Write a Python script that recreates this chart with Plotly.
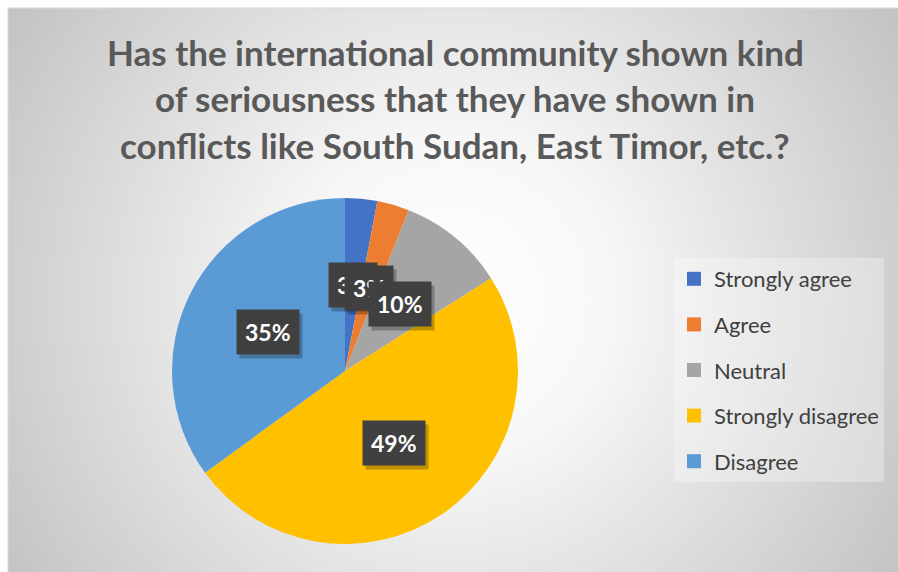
import base64
import math
import plotly.graph_objects as go

# ---------------- data ----------------
categories = ["Strongly agree", "Agree", "Neutral", "Strongly disagree", "Disagree"]
values = [3, 3, 10, 49, 35]
colors = ["#4472C4", "#ED7D31", "#A5A5A5", "#FFC000", "#5B9BD5"]
title_lines = [
    "Has the international community shown kind",
    "of seriousness that they have shown in",
    "conflicts like South Sudan, East Timor, etc.?",
]

# ---------------- layout constants ----------------
W, H = 898, 572
PCX, PCY, PR = 345, 371, 173  # pie centre / radius in pixels (from top-left)

def px2paper(x, y):
    return x / W, 1 - y / H

fig = go.Figure()

fig.add_trace(go.Pie(
    labels=categories, values=values, sort=False, direction="clockwise", rotation=0,
    marker=dict(colors=colors, line=dict(width=0)),
    textinfo="none", hoverinfo="label+percent", showlegend=False,
    domain=dict(x=[(PCX - PR) / W, (PCX + PR) / W], y=[1 - (PCY + PR) / H, 1 - (PCY - PR) / H]),
))

# legend entries (separate traces so the spacing can match)
for c, col in zip(categories, colors):
    fig.add_trace(go.Scatter(
        x=[None], y=[None], mode="markers", name=c, legendgroup=c,
        marker=dict(symbol="square", size=14, color=col), hoverinfo="skip",
    ))

# data labels computed from values
total = sum(values)
cum = 0
annotations = []
for v in values:
    mid = (cum + v / 2) / total * 2 * math.pi
    cum += v
    lx = PCX + 0.5 * PR * math.sin(mid)
    ly = PCY - 0.5 * PR * math.cos(mid)
    ax, ay = px2paper(lx, ly)
    txt = f"{round(v / total * 100)}%"
    # shadow
    annotations.append(dict(
        x=ax, y=ay, xref="paper", yref="paper", text=f"<b>{txt}</b>", showarrow=False,
        xanchor="center", yanchor="middle",
        xshift=3, yshift=-4, bgcolor="rgba(0,0,0,0.25)", borderpad=8,
        font=dict(family="Lato", size=23, color="rgba(0,0,0,0)"),
    ))
    annotations.append(dict(
        x=ax, y=ay, xref="paper", yref="paper", text=f"<b>{txt}</b>", showarrow=False,
        xanchor="center", yanchor="middle",
        bgcolor="#404040", borderpad=8,
        font=dict(family="Lato", size=23, color="white"),
    ))

# title lines
for i, line in enumerate(title_lines):
    tx, ty = px2paper(455, 52 + i * 46.5)
    annotations.append(dict(
        x=tx, y=ty, xref="paper", yref="paper", text=f"<b>{line}</b>", showarrow=False,
        xanchor="center", yanchor="middle",
        font=dict(family="Lato", size=35, color="#595959"),
    ))

# radial gradient background as inline SVG
svg = f'''<svg xmlns="http://www.w3.org/2000/svg" width="890" height="564" viewBox="0 0 890 564">
<defs><radialGradient id="g" gradientUnits="userSpaceOnUse" cx="445" cy="290" r="525">
<stop offset="0" stop-color="#ffffff"/><stop offset="0.3" stop-color="#f7f7f7"/>
<stop offset="1" stop-color="#c3c3c3"/></radialGradient></defs>
<rect x="0" y="0" width="890" height="564" fill="url(#g)"/></svg>'''
src = "data:image/svg+xml;base64," + base64.b64encode(svg.encode()).decode()

fig.update_layout(
    width=W, height=H, margin=dict(l=0, r=0, t=0, b=0),
    paper_bgcolor="white", plot_bgcolor="rgba(0,0,0,0)",
    xaxis=dict(visible=False), yaxis=dict(visible=False),
    images=[dict(source=src, xref="paper", yref="paper", x=8 / W, y=1 - 8 / H,
                 sizex=1 - 8 / W, sizey=1 - 8 / H, xanchor="left", yanchor="top",
                 sizing="stretch", layer="below")],
    shapes=[dict(type="rect", xref="paper", yref="paper", x0=8 / W, x1=1.01, y0=-0.01, y1=1 - 8 / H,
                 line=dict(color="#d9d9d9", width=1))],
    annotations=annotations,
    legend=dict(
        x=674 / W, y=1 - 258 / H, xanchor="left", yanchor="top",
        bgcolor="rgba(255,255,255,0.3)", tracegroupgap=14, traceorder="grouped",
        font=dict(family="Lato", size=22, color="#404040"), itemclick=False,
    ),
    showlegend=True,
)

fig.write_html("out.html")
